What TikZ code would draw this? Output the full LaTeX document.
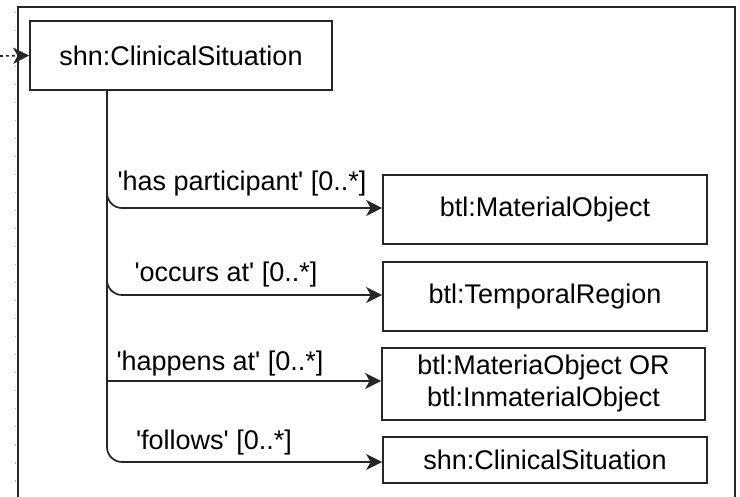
\documentclass[tikz,border=0pt]{standalone}
\usepackage{fontspec}
\setmainfont{Liberation Sans}
\usetikzlibrary{arrows.meta,calc}
\newcommand{\sq}{\textquotesingle}
\begin{document}
\begin{tikzpicture}[x=1pt,y=-1pt,
  line width=1.7pt,
  every node/.style={font=\fontsize{27}{32}\selectfont},
  classbox/.style={draw=black!85, fill=white, inner sep=0pt, align=center},
  link/.style={draw=black!85, -{Stealth[length=16pt,width=16pt,inset=4.5pt]}},
  lbl/.style={inner sep=0pt}]
\useasboundingbox (0,0) rectangle (740,497);

% surrounding frame, open at the bottom
\draw[black!85] (18,497) -- (18,7) -- (735,7) -- (735,497);
\draw[black!30, line width=1pt, dash pattern=on 1.5pt off 16.5pt] (15.5,12) -- (15.5,497);

% classes
\node[classbox, minimum width=302pt, minimum height=69pt] (cs) at (181,55.5) {shn:ClinicalSituation};
\node[classbox, minimum width=324pt, minimum height=69pt] (mo) at (545,209.5) {btl:MaterialObject};
\node[classbox, minimum width=324pt, minimum height=69pt] (tr) at (545,296.5) {btl:TemporalRegion};
\node[classbox, minimum width=323pt, minimum height=72pt] (mi) at (543.5,384) {btl:MateriaObject OR\\btl:InmaterialObject};
\node[classbox, minimum width=324pt, minimum height=46pt] (cs2) at (545,460) {shn:ClinicalSituation};

% incoming reference
\coordinate (inref) at (0,56);
\draw[link, dash pattern=on 3pt off 3pt] (inref) -- (cs.west);

% property edges
\coordinate (root) at (107,90);
\draw[link, rounded corners=15pt] (root) |- ([yshift=1.5pt]mo.west);
\draw[link, rounded corners=15pt] (root) |- ([yshift=1.5pt]tr.west);
\draw[link] (root) |- ([yshift=3pt]mi.west);
\draw[link, rounded corners=15pt] (root) |- ([yshift=-2pt]cs2.west);

% property labels
\node[lbl] (lp) at (242,184) {\sq has participant\sq{} [0..*]};
\node[lbl] (lo) at (226,275) {\sq occurs at\sq{} [0..*]};
\node[lbl] (lh) at (220,364) {\sq happens at\sq{} [0..*]};
\node[lbl] (lf) at (214,443) {\sq follows\sq{} [0..*]};
\end{tikzpicture}
\end{document}
